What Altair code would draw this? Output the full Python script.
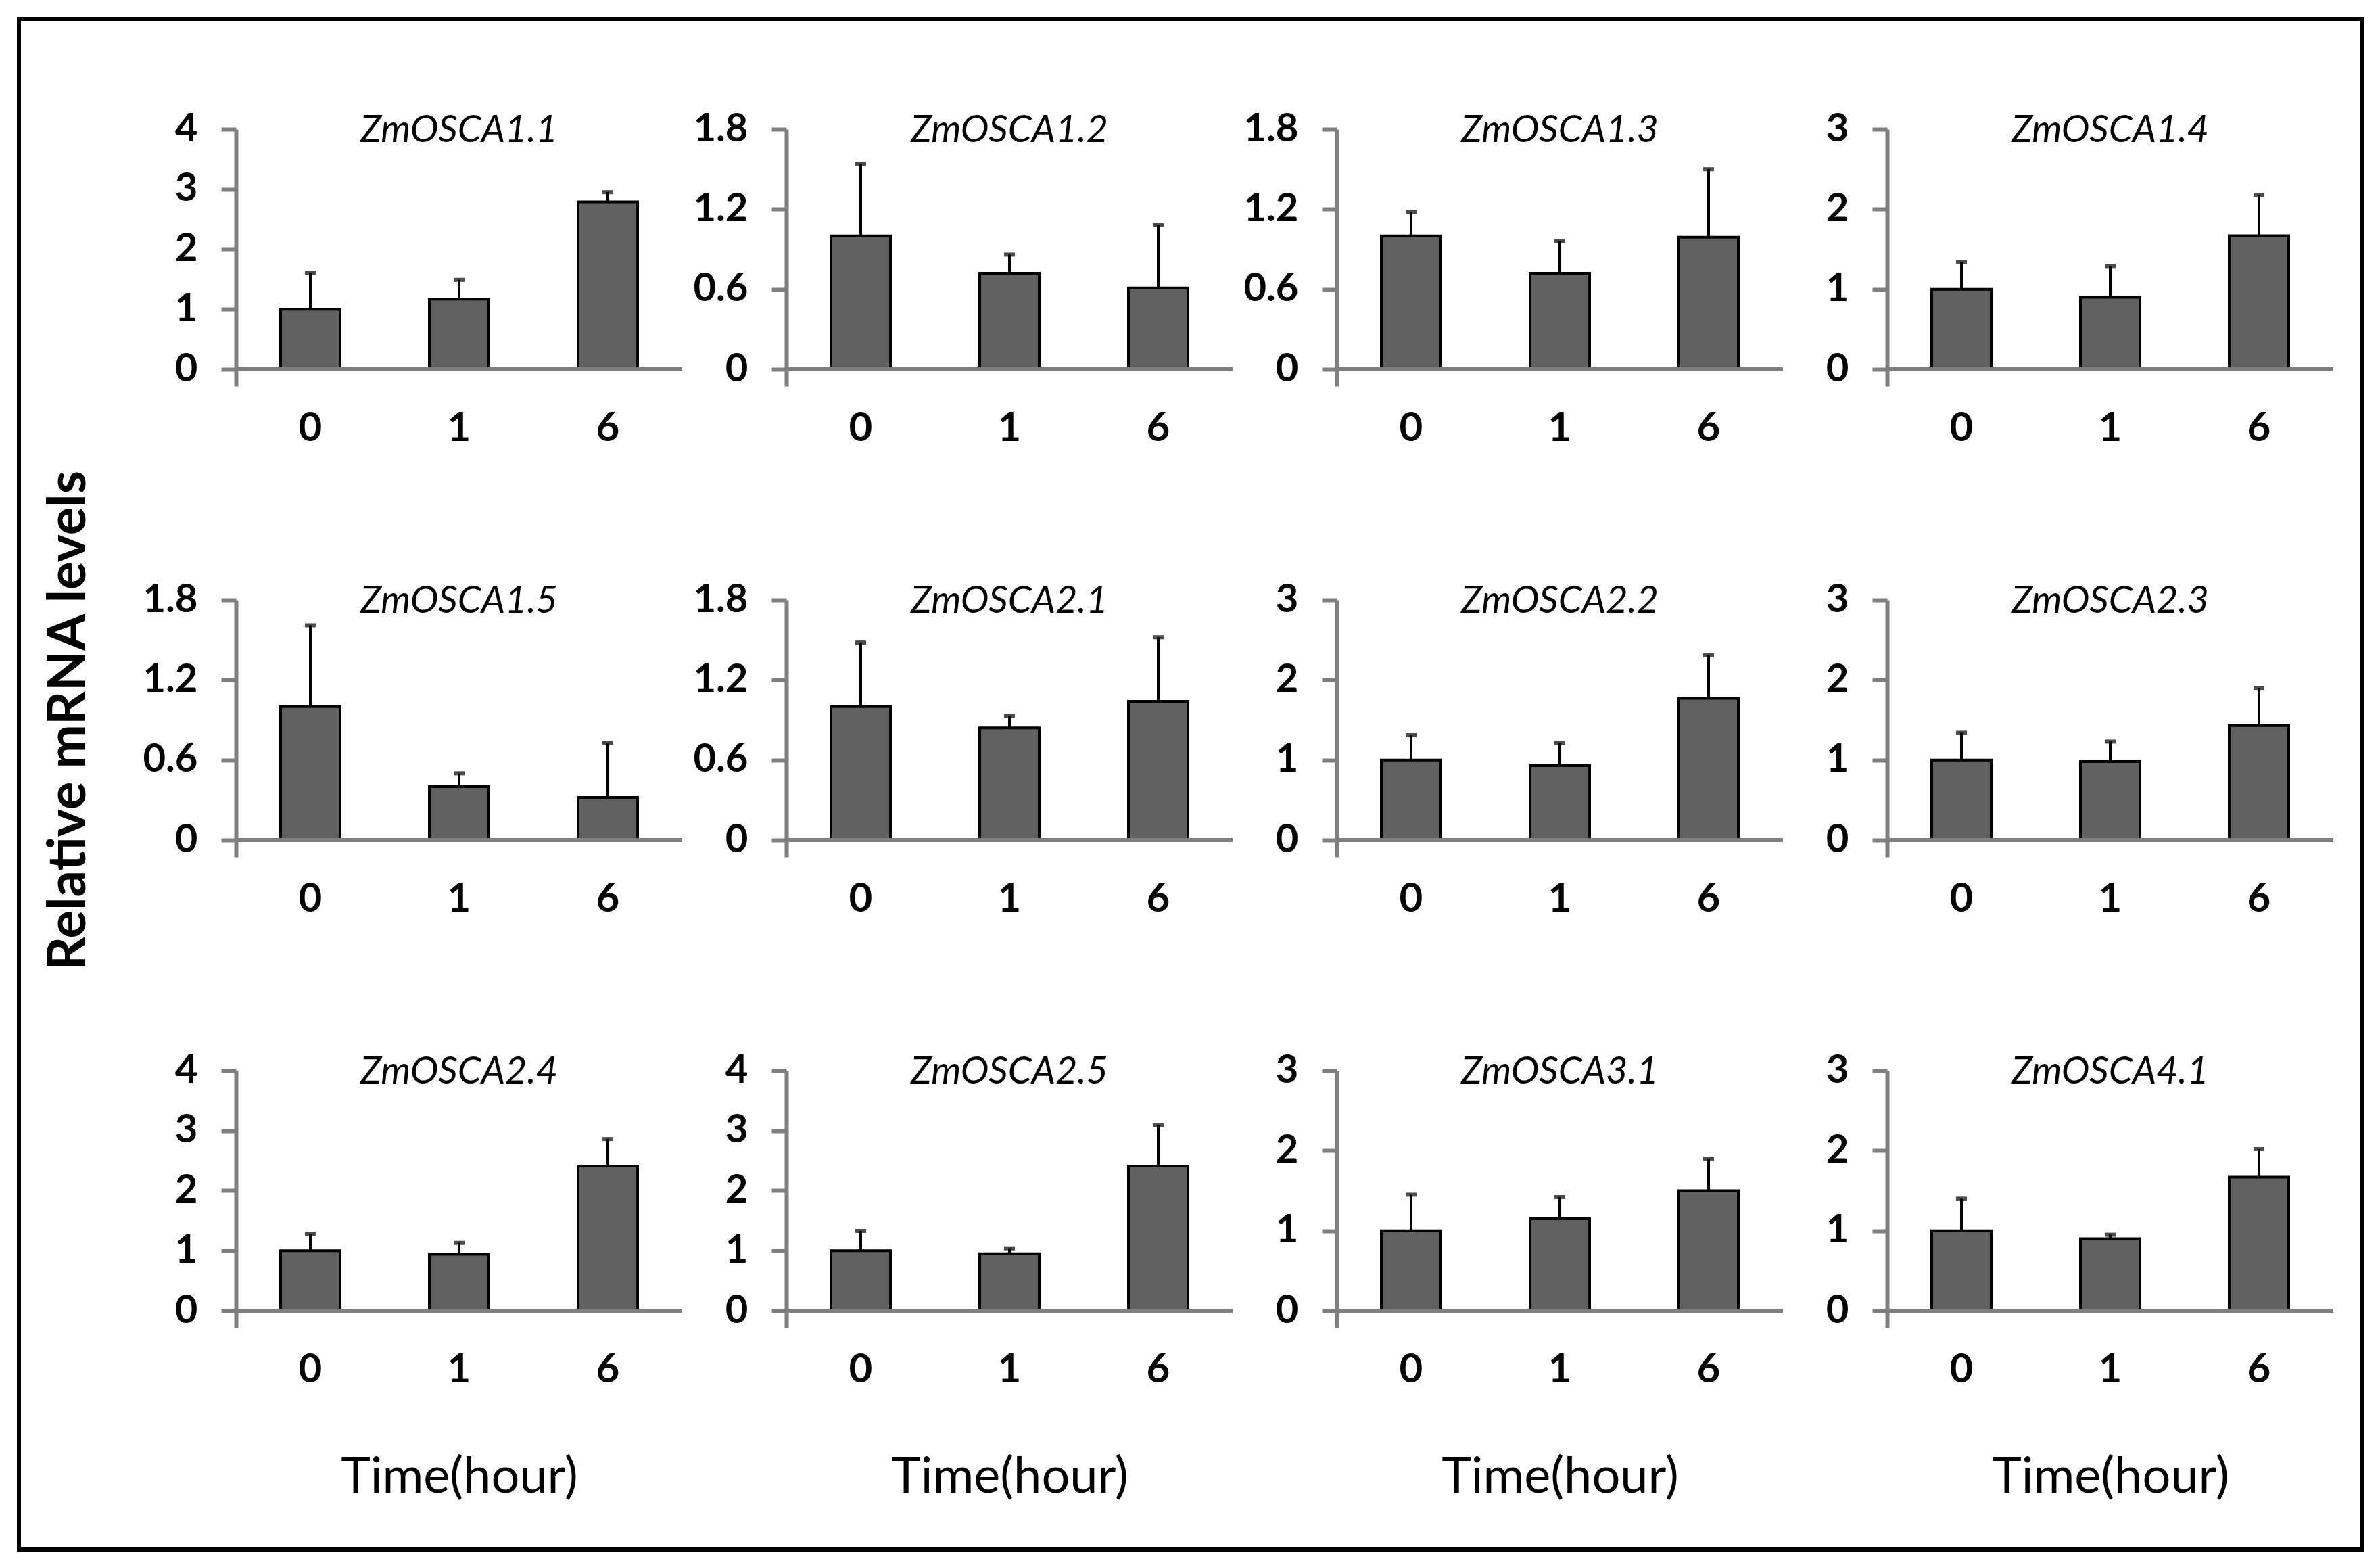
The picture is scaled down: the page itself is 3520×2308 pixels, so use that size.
import altair as alt
import pandas as pd

genes = ["ZmOSCA1.1", "ZmOSCA1.2", "ZmOSCA1.3", "ZmOSCA1.4",
         "ZmOSCA1.5", "ZmOSCA2.1", "ZmOSCA2.2", "ZmOSCA2.3",
         "ZmOSCA2.4", "ZmOSCA2.5", "ZmOSCA3.1", "ZmOSCA4.1"]
times = ["0", "1", "6"]

mean_t0 = [1.00, 1.00, 1.00, 1.00, 1.00, 1.00, 1.00, 1.00, 1.00, 1.00, 1.00, 1.00]
mean_t1 = [1.17, 0.72, 0.72, 0.90, 0.40, 0.84, 0.93, 0.98, 0.94, 0.95, 1.15, 0.90]
mean_t6 = [2.79, 0.61, 0.99, 1.67, 0.32, 1.04, 1.77, 1.43, 2.41, 2.41, 1.50, 1.67]

sd_t0 = [0.61, 0.54, 0.18, 0.34, 0.61, 0.48, 0.31, 0.34, 0.28, 0.33, 0.45, 0.40]
sd_t1 = [0.32, 0.14, 0.24, 0.39, 0.10, 0.09, 0.28, 0.25, 0.19, 0.09, 0.27, 0.05]
sd_t6 = [0.16, 0.47, 0.51, 0.51, 0.41, 0.48, 0.54, 0.47, 0.45, 0.68, 0.40, 0.35]

y_max = [4, 1.8, 1.8, 3, 1.8, 1.8, 3, 3, 4, 4, 3, 3]
y_ticks = [[0, 1, 2, 3, 4], [0, 0.6, 1.2, 1.8], [0, 0.6, 1.2, 1.8], [0, 1, 2, 3],
           [0, 0.6, 1.2, 1.8], [0, 0.6, 1.2, 1.8], [0, 1, 2, 3], [0, 1, 2, 3],
           [0, 1, 2, 3, 4], [0, 1, 2, 3, 4], [0, 1, 2, 3], [0, 1, 2, 3]]

y_title = "Relative mRNA levels"
x_title = "Time(hour)"

W, H = 660, 380
PLOT_H = 355          # pixels from 0 to the top tick
EXT = 25              # axis extension below zero
AXIS_GRAY = "#7f7f7f"
FONT = "Lato"

panels = []
for i, g in enumerate(genes):
    df = pd.DataFrame({
        "time": times,
        "mean": [mean_t0[i], mean_t1[i], mean_t6[i]],
        "sd": [sd_t0[i], sd_t1[i], sd_t6[i]],
    })
    df["top"] = df["mean"] + df["sd"]
    ymax = y_max[i]
    lo = -ymax * EXT / PLOT_H
    yscale = alt.Scale(domain=[lo, ymax], nice=False, zero=False)

    ykw = dict(values=y_ticks[i], format="~g", grid=False,
               domainColor=AXIS_GRAY, domainWidth=6,
               tickColor=AXIS_GRAY, tickWidth=6, tickSize=22,
               labelPadding=35)
    ytit = None
    if i == 4:
        ykw.update(titleX=-247, titleY=178, titleAngle=270, titleAlign="center",
                   titleBaseline="middle", titleFontSize=78, titleFontWeight="bold")
        ytit = y_title
    yaxis = alt.Axis(**ykw)

    xkw = dict(labelAngle=0, ticks=False, tickSize=0, domain=False, labelPadding=33,
               labelFontSize=60)
    xtit = None
    if i >= 8:
        xkw.update(titleY=243, titleBaseline="alphabetic", titleFontSize=74,
                   titleFontWeight="normal")
        xtit = x_title
    x = alt.X("time:N", sort=times,
              scale=alt.Scale(paddingInner=0.6, paddingOuter=0.3),
              axis=alt.Axis(**xkw), title=xtit)

    def Y(field):
        return alt.Y(field, scale=yscale, axis=yaxis, title=ytit)

    base = alt.Chart(df)
    bars = base.mark_bar(color="#606060", stroke="black", strokeWidth=4).encode(
        x=x, y=Y("mean:Q"))
    stems = base.mark_rule(color="black", strokeWidth=4).encode(
        x=x, y=Y("mean:Q"), y2="top:Q")
    caps = base.mark_tick(color="black", thickness=6, size=16, orient="horizontal").encode(
        x=x, y=Y("top:Q"))
    zero = alt.Chart(pd.DataFrame({"z": [0]})).mark_rule(
        color=AXIS_GRAY, strokeWidth=6).encode(y=Y("z:Q"))
    ttl = alt.Chart(pd.DataFrame({"gene": [g], "ymax": [ymax]})).mark_text(
        font=FONT, fontStyle="italic", fontSize=56, baseline="middle",
        align="center", color="black", dy=2).encode(
        x=alt.value(W / 2), y=Y("ymax:Q"), text="gene:N")

    layers = [stems, caps, bars, zero, ttl]
    if i == 0:
        frame = alt.Chart(pd.DataFrame({"f": [0]})).mark_rect(
            fillOpacity=0, stroke="black", strokeWidth=6).encode(
            x=alt.value(-321), x2=alt.value(3144),
            y=alt.value(-163), y2=alt.value(2100))
        layers = [frame] + layers
    panels.append(alt.layer(*layers).properties(width=W, height=H))

chart = alt.concat(
    *panels, columns=4, spacing={"row": 316, "column": 154}, bounds="flush"
).properties(
    padding={"left": 17, "top": 17, "right": 10, "bottom": 10},
    background="white",
).configure_view(
    strokeWidth=0
).configure_axis(
    labelFont=FONT, labelFontWeight="bold", labelFontSize=58, labelColor="black",
    titleFont=FONT, titleColor="black",
)

chart.save("out.html", embed_options={"renderer": "svg", "actions": False})
